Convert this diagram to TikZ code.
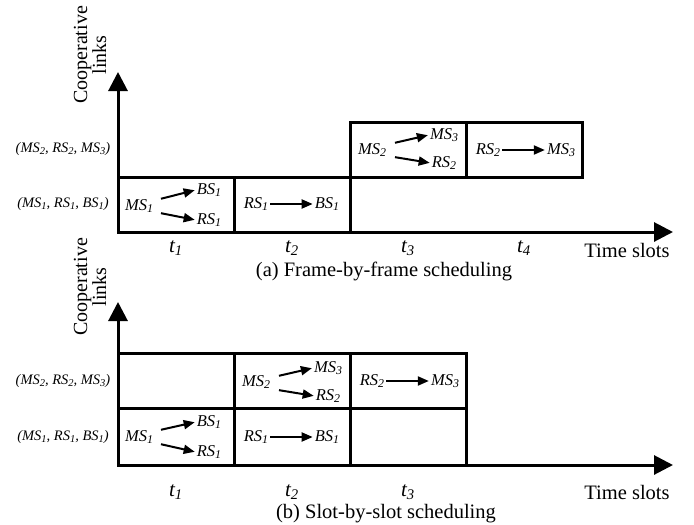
\documentclass[tikz,border=0pt]{standalone}
\usepackage{fontspec}
\setmainfont{Liberation Serif}
\usetikzlibrary{arrows.meta}
\newcommand\lk[2]{\textit{#1}\raisebox{-0.35ex}{\scalebox{0.72}{\textit{#2}}}}
\tikzset{
  ax/.style={line width=3pt,-{Triangle[length=19pt,width=19pt]}},
  box/.style={line width=3pt},
  arr/.style={line width=2pt,-{Triangle[length=11pt,width=9pt]},shorten <=1pt,shorten >=1pt},
  txt/.style={font=\fontsize{16.5}{18}\selectfont,inner sep=1pt},
  rowlab/.style={font=\fontsize{14.5}{16}\selectfont\itshape,inner sep=0pt},
  tlab/.style={font=\fontsize{21}{24}\selectfont\itshape,inner sep=0pt},
  big/.style={font=\fontsize{20.5}{23}\selectfont,inner sep=0pt},
  ylab/.style={font=\fontsize{20}{19}\selectfont,align=center,rotate=90,inner sep=0pt}
}
\begin{document}
\begin{tikzpicture}[x=1pt,y=-1pt]
\useasboundingbox (0,0) rectangle (694,525);
% ===== (a) =====
\coordinate (oa) at (118,232);
\coordinate (ya) at (118,72);
\coordinate (xa) at (673,232);
\draw[box] (118,177) rectangle (234,232);
\draw[box] (234,177) rectangle (350,232);
\draw[box] (350,122) rectangle (466,177);
\draw[box] (466,122) rectangle (582,177);
\draw[box] (350,177) -- (350,232);
\draw[ax] (oa) -- (ya);
\draw[ax] (oa) -- (xa);
\node[ylab] (yla) at (90,55) {Cooperative\\links};
\node[rowlab] (ra2) at (63,149) {(\lk{MS}{2}, \lk{RS}{2}, \lk{MS}{3})};
\node[rowlab] (ra1) at (63,204) {(\lk{MS}{1}, \lk{RS}{1}, \lk{BS}{1})};
% t1 box
\node[txt] (a1ms) at (139,206) {\lk{MS}{1}};
\node[txt] (a1bs) at (209,190) {\lk{BS}{1}};
\node[txt] (a1rs) at (209,220) {\lk{RS}{1}};
\draw[arr] (160,199) -- (a1bs.west);
\draw[arr] (160,213) -- (a1rs.west);
% t2 box
\node[txt] (a2rs) at (256,204) {\lk{RS}{1}};
\node[txt] (a2bs) at (327,204) {\lk{BS}{1}};
\draw[arr] (a2rs) -- (a2bs);
% t3 box
\node[txt] (a3ms) at (372,150) {\lk{MS}{2}};
\node[txt] (a3ms3) at (444,135) {\lk{MS}{3}};
\node[txt] (a3rs) at (444,163) {\lk{RS}{2}};
\draw[arr] (394,143) -- (a3ms3.west);
\draw[arr] (394,157) -- (a3rs.west);
% t4 box
\node[txt] (a4rs) at (488,150) {\lk{RS}{2}};
\node[txt] (a4ms) at (561,150) {\lk{MS}{3}};
\draw[arr] (a4rs) -- (a4ms);
\node[tlab] (at1) at (176,248) {t\textsubscript{1}};
\node[tlab] (at2) at (292,248) {t\textsubscript{2}};
\node[tlab] (at3) at (408,248) {t\textsubscript{3}};
\node[tlab] (at4) at (524,248) {t\textsubscript{4}};
\node[big] (ats) at (627,250) {Time slots};
\node[big] (capa) at (384,271) {(a) Frame-by-frame scheduling};
% ===== (b) =====
\coordinate (ob) at (118,465);
\coordinate (yb) at (118,302);
\coordinate (xb) at (673,465);
\draw[box] (118,353) rectangle (234,408);
\draw[box] (234,353) rectangle (350,408);
\draw[box] (350,353) rectangle (466,408);
\draw[box] (118,408) rectangle (234,465);
\draw[box] (234,408) rectangle (350,465);
\draw[box] (350,408) rectangle (466,465);
\draw[ax] (ob) -- (yb);
\draw[ax] (ob) -- (xb);
\node[ylab] (ylb) at (90,287) {Cooperative\\links};
\node[rowlab] (rb2) at (63,381) {(\lk{MS}{2}, \lk{RS}{2}, \lk{MS}{3})};
\node[rowlab] (rb1) at (63,437) {(\lk{MS}{1}, \lk{RS}{1}, \lk{BS}{1})};
% col1 lower
\node[txt] (b1ms) at (139,437) {\lk{MS}{1}};
\node[txt] (b1bs) at (209,422) {\lk{BS}{1}};
\node[txt] (b1rs) at (209,452) {\lk{RS}{1}};
\draw[arr] (160,430) -- (b1bs.west);
\draw[arr] (160,444) -- (b1rs.west);
% col2 upper
\node[txt] (b2ms) at (256,382) {\lk{MS}{2}};
\node[txt] (b2ms3) at (328,368) {\lk{MS}{3}};
\node[txt] (b2rs) at (328,396) {\lk{RS}{2}};
\draw[arr] (278,376) -- (b2ms3.west);
\draw[arr] (278,390) -- (b2rs.west);
% col2 lower
\node[txt] (b2rs1) at (256,437) {\lk{RS}{1}};
\node[txt] (b2bs1) at (327,437) {\lk{BS}{1}};
\draw[arr] (b2rs1) -- (b2bs1);
% col3 upper
\node[txt] (b3rs) at (372,381) {\lk{RS}{2}};
\node[txt] (b3ms) at (445,381) {\lk{MS}{3}};
\draw[arr] (b3rs) -- (b3ms);
\node[tlab] (bt1) at (176,492) {t\textsubscript{1}};
\node[tlab] (bt2) at (292,492) {t\textsubscript{2}};
\node[tlab] (bt3) at (408,492) {t\textsubscript{3}};
\node[big] (bts) at (627,492) {Time slots};
\node[big] (capb) at (386,514) {(b) Slot-by-slot scheduling};
\end{tikzpicture}
\end{document}
